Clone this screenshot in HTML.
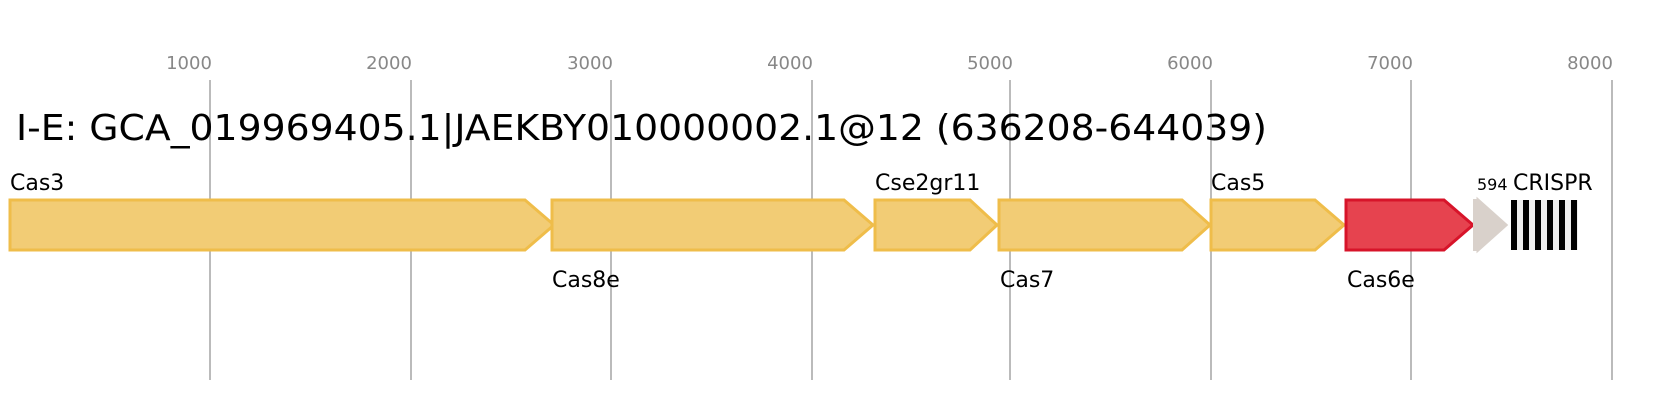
<!DOCTYPE html>
<html><head><style>body{margin:0;background:#fff}</style></head><body>
<svg width="1666" height="400" xmlns="http://www.w3.org/2000/svg" font-family="DejaVu Sans, Liberation Sans, sans-serif">
<g stroke="#bbb" stroke-width="2">
<line x1="210" y1="80" x2="210" y2="380"/><line x1="411" y1="80" x2="411" y2="380"/><line x1="611" y1="80" x2="611" y2="380"/><line x1="812" y1="80" x2="812" y2="380"/><line x1="1010" y1="80" x2="1010" y2="380"/><line x1="1211" y1="80" x2="1211" y2="380"/><line x1="1411" y1="80" x2="1411" y2="380"/><line x1="1612" y1="80" x2="1612" y2="380"/>
</g>
<g fill="#888" font-size="18" text-anchor="middle">
<text x="189" y="69">1000</text><text x="389" y="69">2000</text><text x="590" y="69">3000</text><text x="790" y="69">4000</text><text x="990" y="69">5000</text><text x="1190" y="69">6000</text><text x="1390" y="69">7000</text><text x="1590" y="69">8000</text>
</g>
<text x="16" y="140" font-size="36" fill="#000" textLength="1251" lengthAdjust="spacingAndGlyphs">I-E: GCA_019969405.1|JAEKBY010000002.1@12 (636208-644039)</text>
<g fill="#f2cc75" stroke="#efbd4a" stroke-width="3">
<polygon points="10,200 525,200 554,225 525,250 10,250"/>
<polygon points="552,200 844,200 873,225 844,250 552,250"/>
<polygon points="875,200 970,200 997,225 970,250 875,250"/>
<polygon points="999,200 1182,200 1210,225 1182,250 999,250"/>
<polygon points="1211,200 1315,200 1344,225 1315,250 1211,250"/>
</g>
<polygon points="1346,200 1444,200 1473,225 1444,250 1346,250" fill="#e6434f" stroke="#d7142a" stroke-width="3"/>
<polygon points="1478,200 1506,225 1478,250" fill="#d9d1cb" stroke="#d9d1cb" stroke-width="3"/>
<line x1="1475" y1="199" x2="1475" y2="251" stroke="#d9d1cb" stroke-width="4"/>
<rect x="1511" y="200" width="67" height="50" fill="#eee"/>
<g fill="#000">
<rect x="1511" y="200" width="6" height="50"/><rect x="1523" y="200" width="6" height="50"/><rect x="1535" y="200" width="6" height="50"/><rect x="1547" y="200" width="6" height="50"/><rect x="1559" y="200" width="6" height="50"/><rect x="1571" y="200" width="6" height="50"/>
</g>
<g font-size="22" fill="#000">
<text x="10" y="190">Cas3</text>
<text x="552" y="287">Cas8e</text>
<text x="875" y="190">Cse2gr11</text>
<text x="1000" y="287">Cas7</text>
<text x="1211" y="190">Cas5</text>
<text x="1347" y="287">Cas6e</text>
<text x="1513" y="190">CRISPR</text>
</g>
<text x="1477" y="190" font-size="16" fill="#000">594</text>
</svg>
</body></html>
